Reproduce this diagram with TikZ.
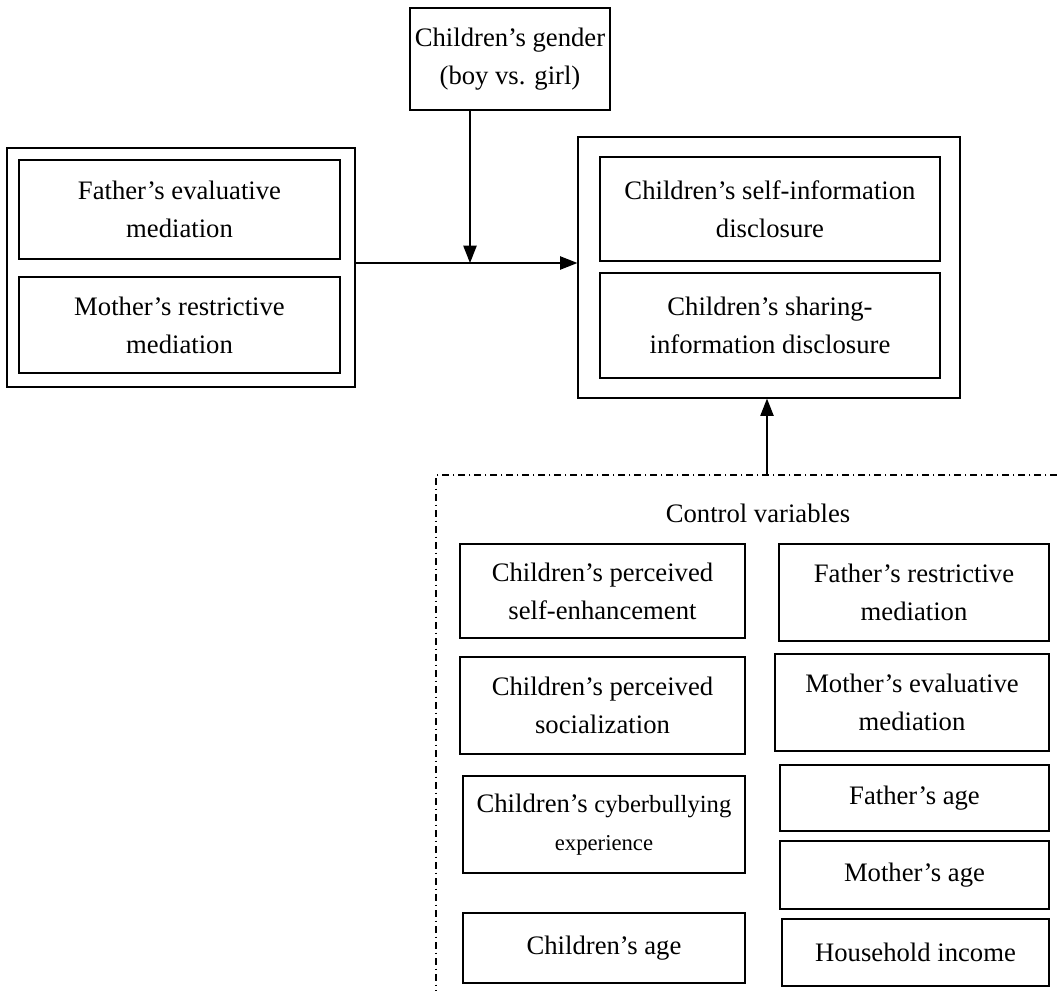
\documentclass[tikz,border=0pt]{standalone}
\usepackage{fontspec}
\setmainfont{Liberation Serif}
\usetikzlibrary{arrows.meta}
\begin{document}
\begin{tikzpicture}[x=0.75pt,y=-0.75pt,
  box/.style={draw,line width=0.9pt,rectangle,inner sep=0pt,align=center,
    font=\fontsize{20}{28.5}\selectfont},
  frame/.style={draw,line width=0.9pt,rectangle,inner sep=0pt},
  arr/.style={line width=0.9pt,-{Triangle[length=13pt,width=10pt]}},
  ctrl/.style={line width=0.8pt,dash pattern=on 5pt off 3pt on 1pt off 3pt}]
\useasboundingbox (0,0) rectangle (1057,991);
% top moderator
\node[box,minimum width=150pt,minimum height=76.5pt] (g) at (510,59) {Children’s gender\\(boy vs. girl)};
% left group
\node[frame,minimum width=261pt,minimum height=179.25pt] (lo) at (181,267.5) {};
\node[box,minimum width=240.75pt,minimum height=74.25pt] (l1) at (179.5,209.5) {Father’s evaluative\\mediation};
\node[box,minimum width=240.75pt,minimum height=72pt] (l2) at (179.5,325) {Mother’s restrictive\\mediation};
% right group
\node[frame,minimum width=286.5pt,minimum height=195.75pt] (ro) at (769,267.5) {};
\node[box,minimum width=255pt,minimum height=78pt] (r1) at (770,209) {Children’s self-information\\disclosure};
\node[box,minimum width=255pt,minimum height=78.75pt] (r2) at (770,325.5) {Children’s sharing-\\information disclosure};
% arrows
\coordinate (m) at (470,263);
\draw[arr] (lo.east |- m) -- (ro.west |- m);
\draw[arr] (g.south -| m) -- (m);
% control region
\coordinate (ctl) at (436,475);
\coordinate (ctr) at (1057,475);
\coordinate (cbl) at (436,991);
\draw[ctrl] (ctr) -- (ctl) -- (cbl);
\node[font=\fontsize{20}{28.5}\selectfont] (cv) at (758,513) {Control variables};
\coordinate (ca) at (767,475);
\draw[arr] (ca) -- (ca |- ro.south);
% control boxes left column
\node[box,minimum width=213.75pt,minimum height=70.5pt] (c1) at (602.5,591) {Children’s perceived\\self-enhancement};
\node[box,minimum width=213.75pt,minimum height=72.75pt] (c2) at (602.5,705.5) {Children’s perceived\\socialization};
\node[box,minimum width=211.5pt,minimum height=72.75pt] (c3) at (604,824.5) {\raisebox{-4pt}{Children’s {\fontsize{18.5}{28.5}\selectfont cyberbullying}}\\\raisebox{-4pt}{\fontsize{17}{28.5}\selectfont experience}};
\node[box,minimum width=211.5pt,minimum height=52.5pt] (c4) at (604,948) {Children’s age};
% control boxes right column
\node[box,minimum width=202.5pt,minimum height=72.75pt] (d1) at (914,592.5) {Father’s restrictive\\mediation};
\node[box,minimum width=205.5pt,minimum height=72.75pt] (d2) at (912,702.5) {Mother’s evaluative\\mediation};
\node[box,minimum width=201.75pt,minimum height=49.5pt] (d3) at (914.5,798) {Father’s age};
\node[box,minimum width=201.75pt,minimum height=51pt] (d4) at (914.5,875) {Mother’s age};
\node[box,minimum width=200.25pt,minimum height=50.25pt] (d5) at (915.5,952.5) {Household income};
\end{tikzpicture}
\end{document}
